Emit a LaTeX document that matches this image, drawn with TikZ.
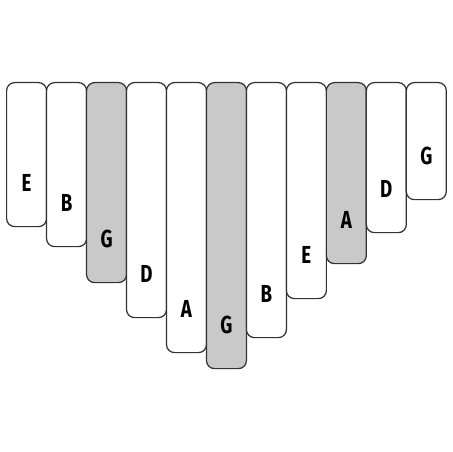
\documentclass[tikz,border=0pt]{standalone}
\usepackage{fontspec}
\setmainfont{Fira Sans}
\newfontfamily\tinefont[FakeStretch=0.76]{Fira Sans}
\usetikzlibrary{positioning}

\begin{document}
\begin{tikzpicture}[x=0.02cm,y=-0.02cm]
    % Colori
    \definecolor{tineline}{RGB}{50,50,50}
    \definecolor{tinegrey}{RGB}{201,201,201}
    \tikzset{
        tine/.style={draw=tineline, line width=0.7pt, rounded corners=0.16cm,
            minimum width=0.7994cm, anchor=north west, inner sep=0pt},
        note/.style={font=\tinefont\bfseries\fontsize{14}{14}\selectfont, inner sep=0pt}
    }
    \useasboundingbox (0,0) rectangle (452,452);

    % Lamelle: numero / fondo / nota / colore
    \foreach \i/\b/\n/\c in {1/226/E/white, 2/246/B/white, 3/282/G/tinegrey,
        4/317/D/white, 5/352/A/white, 6/368/G/tinegrey, 7/337/B/white,
        8/298/E/white, 9/263/A/tinegrey, 10/232/D/white, 11/199/G/white}{
        \pgfmathsetmacro\h{(\b-82)*0.02}
        \pgfmathsetmacro\x{6+(\i-1)*39.97}
        \node[tine, fill=\c, minimum height=\h cm] (t\i) at (\x,82) {};
        \node[note] (n\i) at ([yshift=0.88cm]t\i.south) {\n};
    }
\end{tikzpicture}
\end{document}
